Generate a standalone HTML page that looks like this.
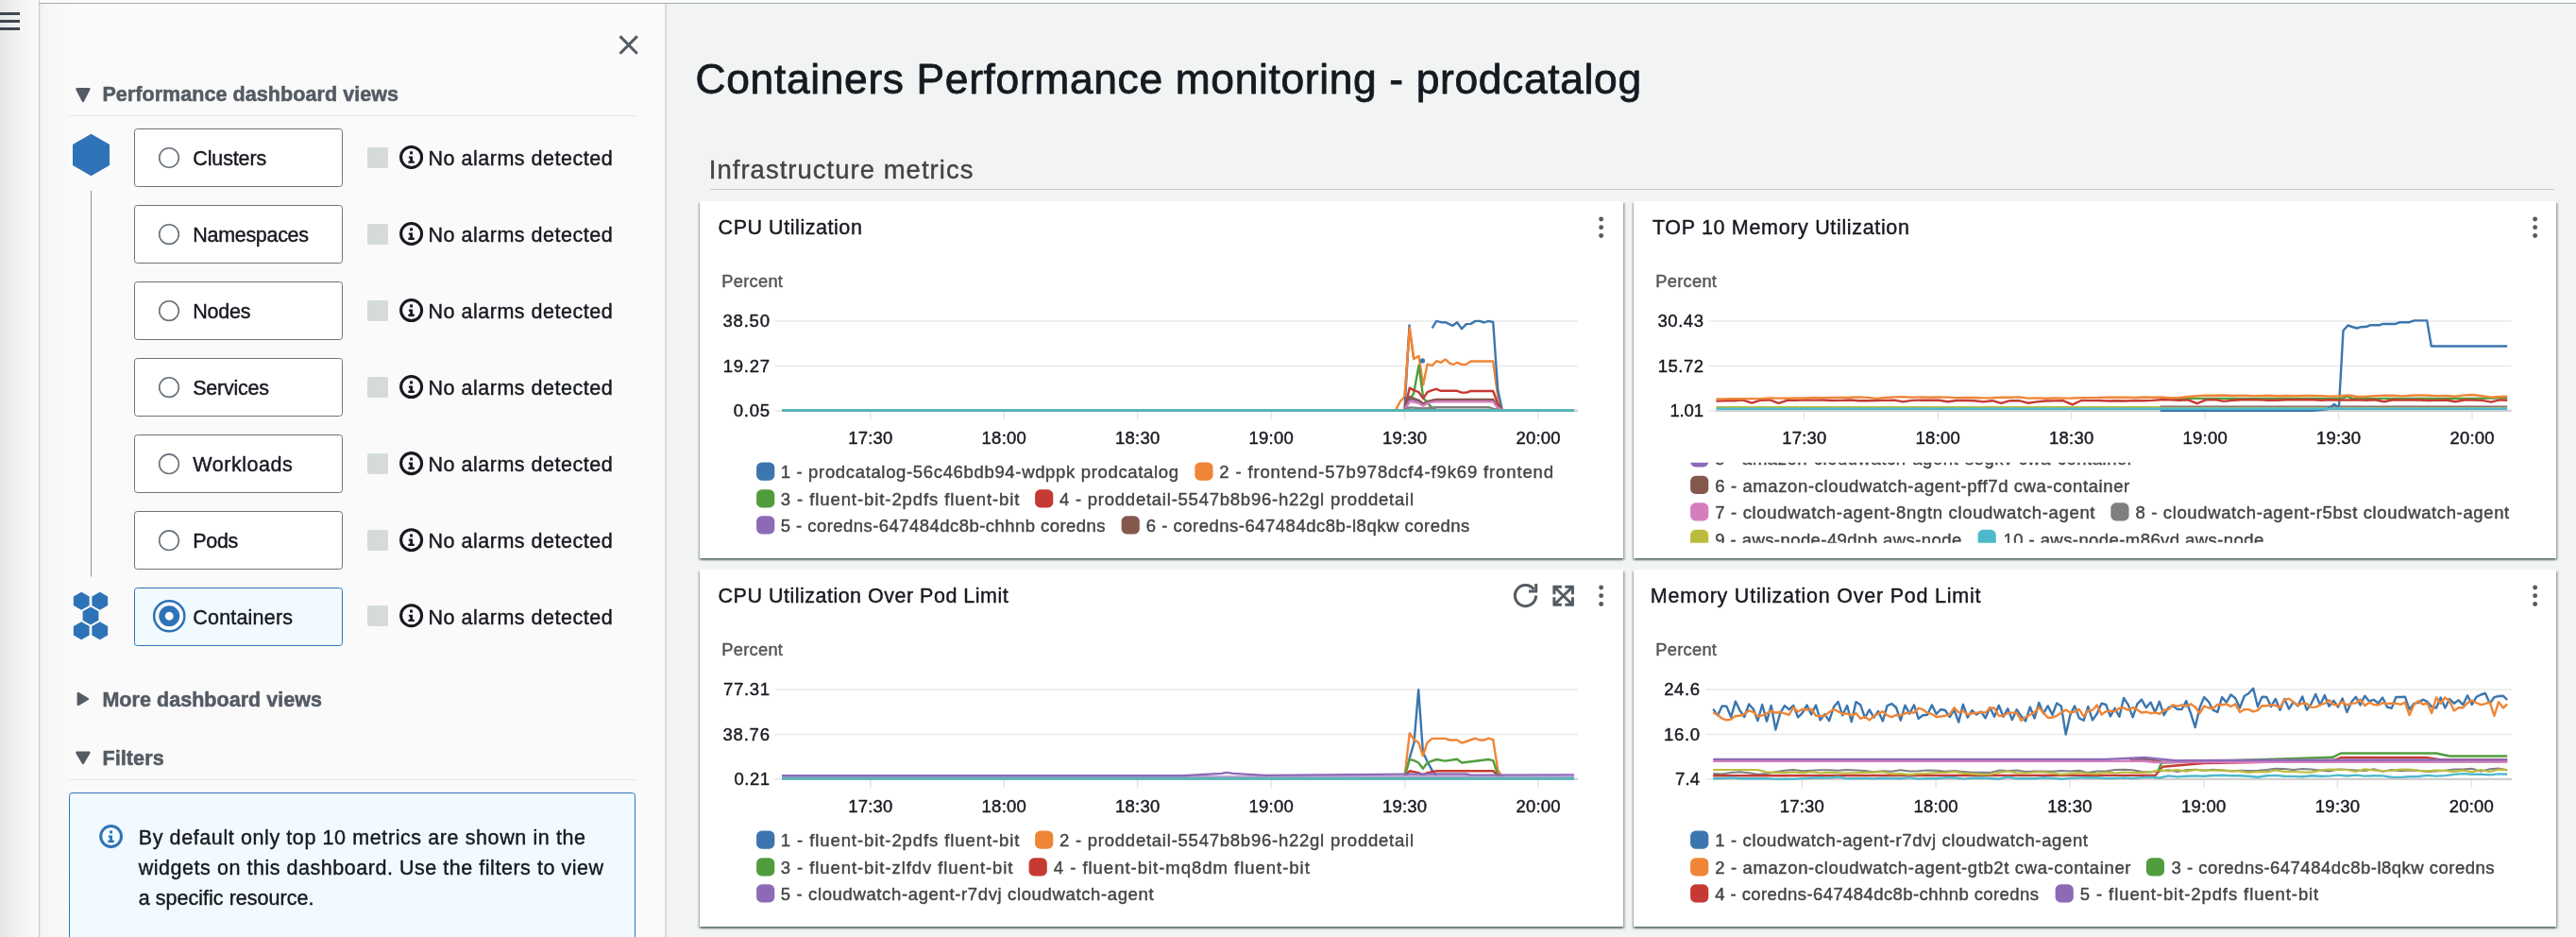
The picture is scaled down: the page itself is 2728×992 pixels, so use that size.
<!DOCTYPE html>
<html lang="en"><head><meta charset="utf-8"><title>Containers Performance monitoring - prodcatalog</title>
<style>
html,body{margin:0;padding:0}
body{width:2728px;height:992px;background:#f2f3f3;font-family:'Liberation Sans', sans-serif}
#page{position:relative;width:2728px;height:992px;overflow:hidden;background:#f2f3f3}
#strip{position:absolute;left:0;top:0;width:41px;height:992px;background:linear-gradient(to right,#e5e5e5 0,#ebebeb 8px,#f1f1f1 17px,#f5f5f5 28px,#f9f9f9 40px);border-right:1.8px solid #cbd0d1}
#strip i{position:absolute;left:0;width:20.8px;height:2.9px;background:#414750}
#strip i:nth-child(1){top:13.2px}#strip i:nth-child(2){top:21.1px}#strip i:nth-child(3){top:29px}
#side{position:absolute;left:42.4px;top:4px;width:662px;height:992px;background:linear-gradient(to right,#e6e9e9 0,#f1f2f2 1.6px,#f5f5f5 4px,#f8f8f8 16px,#fafafa 34px);box-shadow:1px 0 2.5px rgba(0,28,36,.2)}
#topband{position:absolute;left:42.4px;top:0;width:2728px;height:4px;background:#fbfbfb;z-index:3}
#topline{position:absolute;left:41px;top:2.9px;width:2728px;height:1.1px;background:#a3adb0;z-index:4}
.hr{position:absolute;height:1.2px;background:#e3e6e6}
.hr2{position:absolute;height:1px;background:#c8c9c9}
.rbox{position:absolute;left:142.2px;width:219px;height:60px;border:1.5px solid #6b737b;border-radius:3.5px;background:#fff;box-sizing:content-box}
.rbox.sel{border-color:#2e73b8;background:#f1faff}
.sq{position:absolute;left:389px;width:22px;height:22px;border-radius:2px;background:#d5dbdb}
#infobox{position:absolute;left:73px;top:839.2px;width:597.6px;height:200px;border:1.5px solid #2e73b8;border-radius:3.5px;background:#f1faff}
.card{position:absolute;width:978px;height:378px;background:#fff;box-shadow:0 1.6px 2.2px 0 rgba(0,28,36,.5),1.5px 1.5px 1.8px 0 rgba(0,28,36,.2),-1.5px 1.5px 1.8px 0 rgba(0,28,36,.2)}
svg#ov{position:absolute;left:0;top:0;z-index:2;will-change:transform}
svg#ov text{font-family:'Liberation Sans', sans-serif;white-space:pre;stroke-linejoin:round}
</style></head><body><div id="page">
<div id="strip"><i></i><i></i><i></i></div>
<div id="topband"></div><div id="topline"></div>
<div id="side"></div>
<div class="hr" style="left:73.5px;top:122px;width:599px"></div>
<div class="rbox" style="top:136.25px"></div>
<div class="sq" style="top:156.00px"></div>
<div class="rbox" style="top:217.29px"></div>
<div class="sq" style="top:237.04px"></div>
<div class="rbox" style="top:298.33px"></div>
<div class="sq" style="top:318.08px"></div>
<div class="rbox" style="top:379.37px"></div>
<div class="sq" style="top:399.12px"></div>
<div class="rbox" style="top:460.41px"></div>
<div class="sq" style="top:480.16px"></div>
<div class="rbox" style="top:541.45px"></div>
<div class="sq" style="top:561.20px"></div>
<div class="rbox sel" style="top:622.49px"></div>
<div class="sq" style="top:641.24px"></div>
<div class="hr" style="left:73.5px;top:824.5px;width:599px"></div>
<div id="infobox"></div>
<div class="hr2" style="left:752px;top:200px;width:1953px"></div>
<div class="card" style="left:741px;top:213px;width:978px"></div>
<div class="card" style="left:1730px;top:213px;width:977px"></div>
<div class="card" style="left:741px;top:603px;width:978px"></div>
<div class="card" style="left:1730px;top:603px;width:977px"></div>
<svg id="ov" width="2728" height="992" viewBox="0 0 2728 992">
<path d="M656.6,38.4 L674.8,56.8 M674.8,38.4 L656.6,56.8" stroke="#545b64" stroke-width="3" fill="none"/>
<path d="M81.4,94.2 L94.4,94.2 L87.9,106.9z" fill="#545b64" stroke="#545b64" stroke-width="2.4" stroke-linejoin="round"/>
<text x="108.40" y="107.00" font-size="21.5" fill="#545b64" stroke="#545b64" stroke-width="0.55" font-weight="700" textLength="313.60" lengthAdjust="spacing">Performance dashboard views</text>
<circle cx="179" cy="167.00" r="10.3" fill="#fff" stroke="#687078" stroke-width="1.6"/>
<text x="204.25" y="175.00" font-size="21.5" fill="#16191f" stroke="#16191f" stroke-width="0.42" textLength="78.00" lengthAdjust="spacing">Clusters</text>
<circle cx="435.6" cy="166.45" r="11.0" fill="none" stroke="#16191f" stroke-width="3.05"/>
<rect x="434.10" y="160.30" width="2.9" height="3.05" fill="#16191f"/>
<path d="M432.90,165.40 H437.00 V170.45 H438.80 V172.85 H432.40 V170.45 H434.20 V167.60 H432.90z" fill="#16191f"/>
<text x="453.40" y="175.00" font-size="21.5" fill="#16191f" stroke="#16191f" stroke-width="0.42" textLength="195.40" lengthAdjust="spacing">No alarms detected</text>
<circle cx="179" cy="248.04" r="10.3" fill="#fff" stroke="#687078" stroke-width="1.6"/>
<text x="204.25" y="256.04" font-size="21.5" fill="#16191f" stroke="#16191f" stroke-width="0.42" textLength="122.75" lengthAdjust="spacing">Namespaces</text>
<circle cx="435.6" cy="247.49" r="11.0" fill="none" stroke="#16191f" stroke-width="3.05"/>
<rect x="434.10" y="241.34" width="2.9" height="3.05" fill="#16191f"/>
<path d="M432.90,246.44 H437.00 V251.49 H438.80 V253.89 H432.40 V251.49 H434.20 V248.64 H432.90z" fill="#16191f"/>
<text x="453.40" y="256.04" font-size="21.5" fill="#16191f" stroke="#16191f" stroke-width="0.42" textLength="195.40" lengthAdjust="spacing">No alarms detected</text>
<circle cx="179" cy="329.08" r="10.3" fill="#fff" stroke="#687078" stroke-width="1.6"/>
<text x="204.25" y="337.08" font-size="21.5" fill="#16191f" stroke="#16191f" stroke-width="0.42" textLength="61.25" lengthAdjust="spacing">Nodes</text>
<circle cx="435.6" cy="328.53000000000003" r="11.0" fill="none" stroke="#16191f" stroke-width="3.05"/>
<rect x="434.10" y="322.38" width="2.9" height="3.05" fill="#16191f"/>
<path d="M432.90,327.48 H437.00 V332.53 H438.80 V334.93 H432.40 V332.53 H434.20 V329.68 H432.90z" fill="#16191f"/>
<text x="453.40" y="337.08" font-size="21.5" fill="#16191f" stroke="#16191f" stroke-width="0.42" textLength="195.40" lengthAdjust="spacing">No alarms detected</text>
<circle cx="179" cy="410.12" r="10.3" fill="#fff" stroke="#687078" stroke-width="1.6"/>
<text x="204.25" y="418.12" font-size="21.5" fill="#16191f" stroke="#16191f" stroke-width="0.42" textLength="80.70" lengthAdjust="spacing">Services</text>
<circle cx="435.6" cy="409.57" r="11.0" fill="none" stroke="#16191f" stroke-width="3.05"/>
<rect x="434.10" y="403.42" width="2.9" height="3.05" fill="#16191f"/>
<path d="M432.90,408.52 H437.00 V413.57 H438.80 V415.97 H432.40 V413.57 H434.20 V410.72 H432.90z" fill="#16191f"/>
<text x="453.40" y="418.12" font-size="21.5" fill="#16191f" stroke="#16191f" stroke-width="0.42" textLength="195.40" lengthAdjust="spacing">No alarms detected</text>
<circle cx="179" cy="491.16" r="10.3" fill="#fff" stroke="#687078" stroke-width="1.6"/>
<text x="204.25" y="499.16" font-size="21.5" fill="#16191f" stroke="#16191f" stroke-width="0.42" textLength="105.60" lengthAdjust="spacing">Workloads</text>
<circle cx="435.6" cy="490.61" r="11.0" fill="none" stroke="#16191f" stroke-width="3.05"/>
<rect x="434.10" y="484.46" width="2.9" height="3.05" fill="#16191f"/>
<path d="M432.90,489.56 H437.00 V494.61 H438.80 V497.01 H432.40 V494.61 H434.20 V491.76 H432.90z" fill="#16191f"/>
<text x="453.40" y="499.16" font-size="21.5" fill="#16191f" stroke="#16191f" stroke-width="0.42" textLength="195.40" lengthAdjust="spacing">No alarms detected</text>
<circle cx="179" cy="572.20" r="10.3" fill="#fff" stroke="#687078" stroke-width="1.6"/>
<text x="204.25" y="580.20" font-size="21.5" fill="#16191f" stroke="#16191f" stroke-width="0.42" textLength="48.00" lengthAdjust="spacing">Pods</text>
<circle cx="435.6" cy="571.6500000000001" r="11.0" fill="none" stroke="#16191f" stroke-width="3.05"/>
<rect x="434.10" y="565.50" width="2.9" height="3.05" fill="#16191f"/>
<path d="M432.90,570.60 H437.00 V575.65 H438.80 V578.05 H432.40 V575.65 H434.20 V572.80 H432.90z" fill="#16191f"/>
<text x="453.40" y="580.20" font-size="21.5" fill="#16191f" stroke="#16191f" stroke-width="0.42" textLength="195.40" lengthAdjust="spacing">No alarms detected</text>
<circle cx="179.25" cy="652.24" r="16.1" fill="#fff" stroke="#2e73b8" stroke-width="2.5"/>
<circle cx="179.25" cy="652.24" r="11" fill="#2e73b8"/>
<circle cx="179.25" cy="652.24" r="4.4" fill="#fff"/>
<text x="204.25" y="661.24" font-size="21.5" fill="#16191f" stroke="#16191f" stroke-width="0.42" textLength="105.75" lengthAdjust="spacing">Containers</text>
<circle cx="435.6" cy="651.69" r="11.0" fill="none" stroke="#16191f" stroke-width="3.05"/>
<rect x="434.10" y="645.54" width="2.9" height="3.05" fill="#16191f"/>
<path d="M432.90,650.64 H437.00 V655.69 H438.80 V658.09 H432.40 V655.69 H434.20 V652.84 H432.90z" fill="#16191f"/>
<text x="453.40" y="661.24" font-size="21.5" fill="#16191f" stroke="#16191f" stroke-width="0.42" textLength="195.40" lengthAdjust="spacing">No alarms detected</text>
<polygon points="96.50,141.75 116.00,152.88 116.00,175.12 96.50,186.25 77.00,175.12 77.00,152.88" fill="#2e73b8"/>
<line x1="96.5" y1="202" x2="96.5" y2="610.5" stroke="#879596" stroke-width="1"/>
<polygon points="86.25,626.75 94.65,631.50 94.65,641.00 86.25,645.75 77.85,641.00 77.85,631.50" fill="#2e73b8"/>
<polygon points="105.75,626.75 114.15,631.50 114.15,641.00 105.75,645.75 97.35,641.00 97.35,631.50" fill="#2e73b8"/>
<polygon points="96.00,642.50 104.40,647.25 104.40,656.75 96.00,661.50 87.60,656.75 87.60,647.25" fill="#2e73b8"/>
<polygon points="86.25,658.25 94.65,663.00 94.65,672.50 86.25,677.25 77.85,672.50 77.85,663.00" fill="#2e73b8"/>
<polygon points="105.75,658.25 114.15,663.00 114.15,672.50 105.75,677.25 97.35,672.50 97.35,663.00" fill="#2e73b8"/>
<path d="M82.8,734.1 L82.8,745.9 L92.9,740z" fill="#545b64" stroke="#545b64" stroke-width="2.4" stroke-linejoin="round"/>
<text x="108.40" y="748.00" font-size="21.5" fill="#545b64" stroke="#545b64" stroke-width="0.55" font-weight="700" textLength="232.60" lengthAdjust="spacing">More dashboard views</text>
<path d="M81.4,796.8 L94.4,796.8 L87.9,808.0z" fill="#545b64" stroke="#545b64" stroke-width="2.4" stroke-linejoin="round"/>
<text x="108.40" y="810.00" font-size="21.5" fill="#545b64" stroke="#545b64" stroke-width="0.55" font-weight="700" textLength="65.20" lengthAdjust="spacing">Filters</text>
<circle cx="117.6" cy="885.5" r="10.9" fill="none" stroke="#2e73b8" stroke-width="3.0"/>
<rect x="116.10" y="879.35" width="2.9" height="3.05" fill="#2e73b8"/>
<path d="M114.90,884.45 H119.00 V889.50 H120.80 V891.90 H114.40 V889.50 H116.20 V886.65 H114.90z" fill="#2e73b8"/>
<text x="146.75" y="894.25" font-size="21.5" fill="#16191f" stroke="#16191f" stroke-width="0.42" textLength="473.25" lengthAdjust="spacing">By default only top 10 metrics are shown in the</text>
<text x="146.75" y="926.00" font-size="21.5" fill="#16191f" stroke="#16191f" stroke-width="0.42" textLength="492.25" lengthAdjust="spacing">widgets on this dashboard. Use the filters to view</text>
<text x="146.75" y="958.00" font-size="21.5" fill="#16191f" stroke="#16191f" stroke-width="0.42" textLength="185.75" lengthAdjust="spacing">a specific resource.</text>
<text x="736.60" y="99.20" font-size="44.4" fill="#16191f" stroke="#16191f" stroke-width="0.8" textLength="1001.50" lengthAdjust="spacing">Containers Performance monitoring - prodcatalog</text>
<text x="750.80" y="189.25" font-size="27.5" fill="#444" stroke="#444" stroke-width="0.42" textLength="279.60" lengthAdjust="spacing">Infrastructure metrics</text>
<text x="760.55" y="248.15" font-size="21.5" fill="#16191f" stroke="#16191f" stroke-width="0.42" textLength="152.30" lengthAdjust="spacing">CPU Utilization</text>
<circle cx="1695.65" cy="231.95" r="2.45" fill="#545b64"/>
<circle cx="1695.65" cy="240.65" r="2.45" fill="#545b64"/>
<circle cx="1695.65" cy="249.45" r="2.45" fill="#545b64"/>
<text x="764.35" y="303.95" font-size="18.3" fill="#555" stroke="#555" stroke-width="0.42" textLength="64.60" lengthAdjust="spacing">Percent</text>
<line x1="820.50" y1="340.00" x2="1670.85" y2="340.00" stroke="#e9e9e9" stroke-width="1.3"/>
<text x="815.00" y="346.30" font-size="18.5" fill="#16191f" stroke="#16191f" stroke-width="0.42" text-anchor="end" textLength="49.60" lengthAdjust="spacing">38.50</text>
<line x1="820.50" y1="387.50" x2="1670.85" y2="387.50" stroke="#e9e9e9" stroke-width="1.3"/>
<text x="815.00" y="393.80" font-size="18.5" fill="#16191f" stroke="#16191f" stroke-width="0.42" text-anchor="end" textLength="49.20" lengthAdjust="spacing">19.27</text>
<line x1="820.50" y1="434.85" x2="828.00" y2="434.85" stroke="#e6e6e6" stroke-width="1.4"/>
<line x1="828.00" y1="434.95" x2="1670.85" y2="434.95" stroke="#cfcfcf" stroke-width="2.3"/>
<text x="815.00" y="441.15" font-size="18.5" fill="#16191f" stroke="#16191f" stroke-width="0.42" text-anchor="end" textLength="38.20" lengthAdjust="spacing">0.05</text>
<line x1="921.75" y1="435.25" x2="921.75" y2="443.85" stroke="#e0e0e0" stroke-width="1.3"/>
<text x="921.75" y="470.15" font-size="18.5" fill="#16191f" stroke="#16191f" stroke-width="0.42" text-anchor="middle" textLength="47.20" lengthAdjust="spacing">17:30</text>
<line x1="1063.20" y1="435.25" x2="1063.20" y2="443.85" stroke="#e0e0e0" stroke-width="1.3"/>
<text x="1063.20" y="470.15" font-size="18.5" fill="#16191f" stroke="#16191f" stroke-width="0.42" text-anchor="middle" textLength="47.20" lengthAdjust="spacing">18:00</text>
<line x1="1204.65" y1="435.25" x2="1204.65" y2="443.85" stroke="#e0e0e0" stroke-width="1.3"/>
<text x="1204.65" y="470.15" font-size="18.5" fill="#16191f" stroke="#16191f" stroke-width="0.42" text-anchor="middle" textLength="47.20" lengthAdjust="spacing">18:30</text>
<line x1="1346.10" y1="435.25" x2="1346.10" y2="443.85" stroke="#e0e0e0" stroke-width="1.3"/>
<text x="1346.10" y="470.15" font-size="18.5" fill="#16191f" stroke="#16191f" stroke-width="0.42" text-anchor="middle" textLength="47.20" lengthAdjust="spacing">19:00</text>
<line x1="1487.55" y1="435.25" x2="1487.55" y2="443.85" stroke="#e0e0e0" stroke-width="1.3"/>
<text x="1487.55" y="470.15" font-size="18.5" fill="#16191f" stroke="#16191f" stroke-width="0.42" text-anchor="middle" textLength="47.20" lengthAdjust="spacing">19:30</text>
<line x1="1629.00" y1="435.25" x2="1629.00" y2="443.85" stroke="#e0e0e0" stroke-width="1.3"/>
<text x="1629.00" y="470.15" font-size="18.5" fill="#16191f" stroke="#16191f" stroke-width="0.42" text-anchor="middle" textLength="47.20" lengthAdjust="spacing">20:00</text>
<text x="1749.95" y="248.15" font-size="21.5" fill="#16191f" stroke="#16191f" stroke-width="0.42" textLength="272.00" lengthAdjust="spacing">TOP 10 Memory Utilization</text>
<circle cx="2684.65" cy="231.95" r="2.45" fill="#545b64"/>
<circle cx="2684.65" cy="240.65" r="2.45" fill="#545b64"/>
<circle cx="2684.65" cy="249.45" r="2.45" fill="#545b64"/>
<text x="1753.35" y="303.95" font-size="18.3" fill="#555" stroke="#555" stroke-width="0.42" textLength="64.60" lengthAdjust="spacing">Percent</text>
<line x1="1809.50" y1="340.00" x2="2659.85" y2="340.00" stroke="#e9e9e9" stroke-width="1.3"/>
<text x="1804.00" y="346.30" font-size="18.5" fill="#16191f" stroke="#16191f" stroke-width="0.42" text-anchor="end" textLength="48.60" lengthAdjust="spacing">30.43</text>
<line x1="1809.50" y1="387.50" x2="2659.85" y2="387.50" stroke="#e9e9e9" stroke-width="1.3"/>
<text x="1804.00" y="393.80" font-size="18.5" fill="#16191f" stroke="#16191f" stroke-width="0.42" text-anchor="end" textLength="48.20" lengthAdjust="spacing">15.72</text>
<line x1="1809.50" y1="434.85" x2="1817.00" y2="434.85" stroke="#e6e6e6" stroke-width="1.4"/>
<line x1="1817.00" y1="434.95" x2="2659.85" y2="434.95" stroke="#cfcfcf" stroke-width="2.3"/>
<text x="1804.00" y="441.15" font-size="18.5" fill="#16191f" stroke="#16191f" stroke-width="0.42" text-anchor="end" textLength="35.60" lengthAdjust="spacing">1.01</text>
<line x1="1910.75" y1="435.25" x2="1910.75" y2="443.85" stroke="#e0e0e0" stroke-width="1.3"/>
<text x="1910.75" y="470.15" font-size="18.5" fill="#16191f" stroke="#16191f" stroke-width="0.42" text-anchor="middle" textLength="47.20" lengthAdjust="spacing">17:30</text>
<line x1="2052.20" y1="435.25" x2="2052.20" y2="443.85" stroke="#e0e0e0" stroke-width="1.3"/>
<text x="2052.20" y="470.15" font-size="18.5" fill="#16191f" stroke="#16191f" stroke-width="0.42" text-anchor="middle" textLength="47.20" lengthAdjust="spacing">18:00</text>
<line x1="2193.65" y1="435.25" x2="2193.65" y2="443.85" stroke="#e0e0e0" stroke-width="1.3"/>
<text x="2193.65" y="470.15" font-size="18.5" fill="#16191f" stroke="#16191f" stroke-width="0.42" text-anchor="middle" textLength="47.20" lengthAdjust="spacing">18:30</text>
<line x1="2335.10" y1="435.25" x2="2335.10" y2="443.85" stroke="#e0e0e0" stroke-width="1.3"/>
<text x="2335.10" y="470.15" font-size="18.5" fill="#16191f" stroke="#16191f" stroke-width="0.42" text-anchor="middle" textLength="47.20" lengthAdjust="spacing">19:00</text>
<line x1="2476.55" y1="435.25" x2="2476.55" y2="443.85" stroke="#e0e0e0" stroke-width="1.3"/>
<text x="2476.55" y="470.15" font-size="18.5" fill="#16191f" stroke="#16191f" stroke-width="0.42" text-anchor="middle" textLength="47.20" lengthAdjust="spacing">19:30</text>
<line x1="2618.00" y1="435.25" x2="2618.00" y2="443.85" stroke="#e0e0e0" stroke-width="1.3"/>
<text x="2618.00" y="470.15" font-size="18.5" fill="#16191f" stroke="#16191f" stroke-width="0.42" text-anchor="middle" textLength="47.20" lengthAdjust="spacing">20:00</text>
<text x="760.55" y="638.15" font-size="21.5" fill="#16191f" stroke="#16191f" stroke-width="0.42" textLength="307.20" lengthAdjust="spacing">CPU Utilization Over Pod Limit</text>
<circle cx="1695.65" cy="621.95" r="2.45" fill="#545b64"/>
<circle cx="1695.65" cy="630.65" r="2.45" fill="#545b64"/>
<circle cx="1695.65" cy="639.45" r="2.45" fill="#545b64"/>
<text x="764.35" y="693.95" font-size="18.3" fill="#555" stroke="#555" stroke-width="0.42" textLength="64.60" lengthAdjust="spacing">Percent</text>
<line x1="820.50" y1="730.00" x2="1670.85" y2="730.00" stroke="#e9e9e9" stroke-width="1.3"/>
<text x="815.00" y="736.30" font-size="18.5" fill="#16191f" stroke="#16191f" stroke-width="0.42" text-anchor="end" textLength="49.00" lengthAdjust="spacing">77.31</text>
<line x1="820.50" y1="777.50" x2="1670.85" y2="777.50" stroke="#e9e9e9" stroke-width="1.3"/>
<text x="815.00" y="783.80" font-size="18.5" fill="#16191f" stroke="#16191f" stroke-width="0.42" text-anchor="end" textLength="49.60" lengthAdjust="spacing">38.76</text>
<line x1="820.50" y1="824.85" x2="828.00" y2="824.85" stroke="#e6e6e6" stroke-width="1.4"/>
<line x1="828.00" y1="824.95" x2="1670.85" y2="824.95" stroke="#cfcfcf" stroke-width="2.3"/>
<text x="815.00" y="831.15" font-size="18.5" fill="#16191f" stroke="#16191f" stroke-width="0.42" text-anchor="end" textLength="37.60" lengthAdjust="spacing">0.21</text>
<line x1="921.75" y1="825.25" x2="921.75" y2="833.85" stroke="#e0e0e0" stroke-width="1.3"/>
<text x="921.75" y="860.15" font-size="18.5" fill="#16191f" stroke="#16191f" stroke-width="0.42" text-anchor="middle" textLength="47.20" lengthAdjust="spacing">17:30</text>
<line x1="1063.20" y1="825.25" x2="1063.20" y2="833.85" stroke="#e0e0e0" stroke-width="1.3"/>
<text x="1063.20" y="860.15" font-size="18.5" fill="#16191f" stroke="#16191f" stroke-width="0.42" text-anchor="middle" textLength="47.20" lengthAdjust="spacing">18:00</text>
<line x1="1204.65" y1="825.25" x2="1204.65" y2="833.85" stroke="#e0e0e0" stroke-width="1.3"/>
<text x="1204.65" y="860.15" font-size="18.5" fill="#16191f" stroke="#16191f" stroke-width="0.42" text-anchor="middle" textLength="47.20" lengthAdjust="spacing">18:30</text>
<line x1="1346.10" y1="825.25" x2="1346.10" y2="833.85" stroke="#e0e0e0" stroke-width="1.3"/>
<text x="1346.10" y="860.15" font-size="18.5" fill="#16191f" stroke="#16191f" stroke-width="0.42" text-anchor="middle" textLength="47.20" lengthAdjust="spacing">19:00</text>
<line x1="1487.55" y1="825.25" x2="1487.55" y2="833.85" stroke="#e0e0e0" stroke-width="1.3"/>
<text x="1487.55" y="860.15" font-size="18.5" fill="#16191f" stroke="#16191f" stroke-width="0.42" text-anchor="middle" textLength="47.20" lengthAdjust="spacing">19:30</text>
<line x1="1629.00" y1="825.25" x2="1629.00" y2="833.85" stroke="#e0e0e0" stroke-width="1.3"/>
<text x="1629.00" y="860.15" font-size="18.5" fill="#16191f" stroke="#16191f" stroke-width="0.42" text-anchor="middle" textLength="47.20" lengthAdjust="spacing">20:00</text>
<text x="1747.85" y="638.15" font-size="21.5" fill="#16191f" stroke="#16191f" stroke-width="0.42" textLength="349.60" lengthAdjust="spacing">Memory Utilization Over Pod Limit</text>
<circle cx="2684.65" cy="621.95" r="2.45" fill="#545b64"/>
<circle cx="2684.65" cy="630.65" r="2.45" fill="#545b64"/>
<circle cx="2684.65" cy="639.45" r="2.45" fill="#545b64"/>
<text x="1753.35" y="693.95" font-size="18.3" fill="#555" stroke="#555" stroke-width="0.42" textLength="64.60" lengthAdjust="spacing">Percent</text>
<line x1="1806.25" y1="730.00" x2="2659.85" y2="730.00" stroke="#e9e9e9" stroke-width="1.3"/>
<text x="1800.00" y="736.30" font-size="18.5" fill="#16191f" stroke="#16191f" stroke-width="0.42" text-anchor="end" textLength="37.80" lengthAdjust="spacing">24.6</text>
<line x1="1806.25" y1="777.50" x2="2659.85" y2="777.50" stroke="#e9e9e9" stroke-width="1.3"/>
<text x="1800.00" y="783.80" font-size="18.5" fill="#16191f" stroke="#16191f" stroke-width="0.42" text-anchor="end" textLength="38.00" lengthAdjust="spacing">16.0</text>
<line x1="1806.25" y1="824.85" x2="1814.25" y2="824.85" stroke="#e6e6e6" stroke-width="1.4"/>
<line x1="1814.25" y1="824.95" x2="2659.85" y2="824.95" stroke="#cfcfcf" stroke-width="2.3"/>
<text x="1800.00" y="831.15" font-size="18.5" fill="#16191f" stroke="#16191f" stroke-width="0.42" text-anchor="end" textLength="26.00" lengthAdjust="spacing">7.4</text>
<line x1="1908.25" y1="825.25" x2="1908.25" y2="833.85" stroke="#e0e0e0" stroke-width="1.3"/>
<text x="1908.25" y="860.15" font-size="18.5" fill="#16191f" stroke="#16191f" stroke-width="0.42" text-anchor="middle" textLength="47.20" lengthAdjust="spacing">17:30</text>
<line x1="2050.05" y1="825.25" x2="2050.05" y2="833.85" stroke="#e0e0e0" stroke-width="1.3"/>
<text x="2050.05" y="860.15" font-size="18.5" fill="#16191f" stroke="#16191f" stroke-width="0.42" text-anchor="middle" textLength="47.20" lengthAdjust="spacing">18:00</text>
<line x1="2191.85" y1="825.25" x2="2191.85" y2="833.85" stroke="#e0e0e0" stroke-width="1.3"/>
<text x="2191.85" y="860.15" font-size="18.5" fill="#16191f" stroke="#16191f" stroke-width="0.42" text-anchor="middle" textLength="47.20" lengthAdjust="spacing">18:30</text>
<line x1="2333.65" y1="825.25" x2="2333.65" y2="833.85" stroke="#e0e0e0" stroke-width="1.3"/>
<text x="2333.65" y="860.15" font-size="18.5" fill="#16191f" stroke="#16191f" stroke-width="0.42" text-anchor="middle" textLength="47.20" lengthAdjust="spacing">19:00</text>
<line x1="2475.45" y1="825.25" x2="2475.45" y2="833.85" stroke="#e0e0e0" stroke-width="1.3"/>
<text x="2475.45" y="860.15" font-size="18.5" fill="#16191f" stroke="#16191f" stroke-width="0.42" text-anchor="middle" textLength="47.20" lengthAdjust="spacing">19:30</text>
<line x1="2617.25" y1="825.25" x2="2617.25" y2="833.85" stroke="#e0e0e0" stroke-width="1.3"/>
<text x="2617.25" y="860.15" font-size="18.5" fill="#16191f" stroke="#16191f" stroke-width="0.42" text-anchor="middle" textLength="47.20" lengthAdjust="spacing">20:00</text>
<path d="M1626.6,630.6 A11.1,11.1 0 1 1 1624.4,623.9" fill="none" stroke="#545b64" stroke-width="3"/>
<path d="M1626.7,618.1 V626 H1619" fill="none" stroke="#545b64" stroke-width="3"/>
<path d="M1645.9,629.2 V621.2 H1653.9 M1657.4,621.2 H1665.4 V629.2 M1665.4,632.3 V640.3 H1657.4 M1653.9,640.3 H1645.9 V632.3 M1646.9,622.2 L1664.4,639.3 M1664.4,622.2 L1646.9,639.3" fill="none" stroke="#545b64" stroke-width="3"/>
<g>
<rect x="801.10" y="489.55" width="19.2" height="19.2" rx="5.6" fill="#3b76af"/>
<text x="826.75" y="506.25" font-size="18.5" fill="#444" stroke="#444" stroke-width="0.42" textLength="421.25" lengthAdjust="spacing">1 - prodcatalog-56c46bdb94-wdppk prodcatalog</text>
<rect x="1265.35" y="489.55" width="19.2" height="19.2" rx="5.6" fill="#ef8536"/>
<text x="1291.25" y="506.25" font-size="18.5" fill="#444" stroke="#444" stroke-width="0.42" textLength="353.75" lengthAdjust="spacing">2 - frontend-57b978dcf4-f9k69 frontend</text>
<rect x="801.10" y="518.30" width="19.2" height="19.2" rx="5.6" fill="#519d3e"/>
<text x="826.75" y="535.00" font-size="18.5" fill="#444" stroke="#444" stroke-width="0.42" textLength="252.75" lengthAdjust="spacing">3 - fluent-bit-2pdfs fluent-bit</text>
<rect x="1096.10" y="518.30" width="19.2" height="19.2" rx="5.6" fill="#c53a32"/>
<text x="1122.00" y="535.00" font-size="18.5" fill="#444" stroke="#444" stroke-width="0.42" textLength="375.00" lengthAdjust="spacing">4 - proddetail-5547b8b96-h22gl proddetail</text>
<rect x="801.10" y="546.30" width="19.2" height="19.2" rx="5.6" fill="#8d6ab8"/>
<text x="826.75" y="563.00" font-size="18.5" fill="#444" stroke="#444" stroke-width="0.42" textLength="343.75" lengthAdjust="spacing">5 - coredns-647484dc8b-chhnb coredns</text>
<rect x="1187.60" y="546.30" width="19.2" height="19.2" rx="5.6" fill="#85584e"/>
<text x="1213.75" y="563.00" font-size="18.5" fill="#444" stroke="#444" stroke-width="0.42" textLength="342.50" lengthAdjust="spacing">6 - coredns-647484dc8b-l8qkw coredns</text>
</g>
<clipPath id="lc2"><rect x="1760" y="489.7" width="930" height="85.1"/></clipPath>
<g clip-path="url(#lc2)">
<rect x="1790.10" y="475.30" width="19.2" height="19.2" rx="5.6" fill="#8d6ab8"/>
<text x="1816.25" y="492.00" font-size="18.5" fill="#444" stroke="#444" stroke-width="0.42" textLength="442.75" lengthAdjust="spacing">5 - amazon-cloudwatch-agent-s5gkv cwa-container</text>
<rect x="1790.10" y="503.80" width="19.2" height="19.2" rx="5.6" fill="#85584e"/>
<text x="1816.25" y="520.50" font-size="18.5" fill="#444" stroke="#444" stroke-width="0.42" textLength="439.00" lengthAdjust="spacing">6 - amazon-cloudwatch-agent-pff7d cwa-container</text>
<rect x="1790.10" y="532.30" width="19.2" height="19.2" rx="5.6" fill="#d57ebe"/>
<text x="1816.25" y="549.00" font-size="18.5" fill="#444" stroke="#444" stroke-width="0.42" textLength="402.25" lengthAdjust="spacing">7 - cloudwatch-agent-8ngtn cloudwatch-agent</text>
<rect x="2235.35" y="532.30" width="19.2" height="19.2" rx="5.6" fill="#7f7f7f"/>
<text x="2261.50" y="549.00" font-size="18.5" fill="#444" stroke="#444" stroke-width="0.42" textLength="395.75" lengthAdjust="spacing">8 - cloudwatch-agent-r5bst cloudwatch-agent</text>
<rect x="1790.10" y="560.80" width="19.2" height="19.2" rx="5.6" fill="#bbbc3f"/>
<text x="1816.25" y="577.50" font-size="18.5" fill="#444" stroke="#444" stroke-width="0.42" textLength="261.00" lengthAdjust="spacing">9 - aws-node-49dpb aws-node</text>
<rect x="2094.60" y="560.80" width="19.2" height="19.2" rx="5.6" fill="#4eb9cc"/>
<text x="2121.50" y="577.50" font-size="18.5" fill="#444" stroke="#444" stroke-width="0.42" textLength="275.75" lengthAdjust="spacing">10 - aws-node-m86vd aws-node</text>
</g>
<g>
<rect x="801.10" y="879.55" width="19.2" height="19.2" rx="5.6" fill="#3b76af"/>
<text x="826.75" y="896.25" font-size="18.5" fill="#444" stroke="#444" stroke-width="0.42" textLength="252.75" lengthAdjust="spacing">1 - fluent-bit-2pdfs fluent-bit</text>
<rect x="1096.10" y="879.55" width="19.2" height="19.2" rx="5.6" fill="#ef8536"/>
<text x="1122.00" y="896.25" font-size="18.5" fill="#444" stroke="#444" stroke-width="0.42" textLength="375.00" lengthAdjust="spacing">2 - proddetail-5547b8b96-h22gl proddetail</text>
<rect x="801.10" y="908.30" width="19.2" height="19.2" rx="5.6" fill="#519d3e"/>
<text x="826.75" y="925.00" font-size="18.5" fill="#444" stroke="#444" stroke-width="0.42" textLength="245.75" lengthAdjust="spacing">3 - fluent-bit-zlfdv fluent-bit</text>
<rect x="1089.60" y="908.30" width="19.2" height="19.2" rx="5.6" fill="#c53a32"/>
<text x="1115.75" y="925.00" font-size="18.5" fill="#444" stroke="#444" stroke-width="0.42" textLength="271.05" lengthAdjust="spacing">4 - fluent-bit-mq8dm fluent-bit</text>
<rect x="801.10" y="936.30" width="19.2" height="19.2" rx="5.6" fill="#8d6ab8"/>
<text x="826.75" y="953.00" font-size="18.5" fill="#444" stroke="#444" stroke-width="0.42" textLength="394.85" lengthAdjust="spacing">5 - cloudwatch-agent-r7dvj cloudwatch-agent</text>
</g>
<g>
<rect x="1790.10" y="879.55" width="19.2" height="19.2" rx="5.6" fill="#3b76af"/>
<text x="1816.25" y="896.25" font-size="18.5" fill="#444" stroke="#444" stroke-width="0.42" textLength="394.75" lengthAdjust="spacing">1 - cloudwatch-agent-r7dvj cloudwatch-agent</text>
<rect x="1790.10" y="908.30" width="19.2" height="19.2" rx="5.6" fill="#ef8536"/>
<text x="1816.25" y="925.00" font-size="18.5" fill="#444" stroke="#444" stroke-width="0.42" textLength="440.25" lengthAdjust="spacing">2 - amazon-cloudwatch-agent-gtb2t cwa-container</text>
<rect x="2272.85" y="908.30" width="19.2" height="19.2" rx="5.6" fill="#519d3e"/>
<text x="2299.50" y="925.00" font-size="18.5" fill="#444" stroke="#444" stroke-width="0.42" textLength="342.00" lengthAdjust="spacing">3 - coredns-647484dc8b-l8qkw coredns</text>
<rect x="1790.10" y="936.30" width="19.2" height="19.2" rx="5.6" fill="#c53a32"/>
<text x="1816.25" y="953.00" font-size="18.5" fill="#444" stroke="#444" stroke-width="0.42" textLength="342.75" lengthAdjust="spacing">4 - coredns-647484dc8b-chhnb coredns</text>
<rect x="2176.60" y="936.30" width="19.2" height="19.2" rx="5.6" fill="#8d6ab8"/>
<text x="2202.75" y="953.00" font-size="18.5" fill="#444" stroke="#444" stroke-width="0.42" textLength="252.50" lengthAdjust="spacing">5 - fluent-bit-2pdfs fluent-bit</text>
</g>
<polyline points="1478.5,433.6 1482.8,425.0 1487.5,420.0 1492.8,347.2 1497.2,380.0 1502.5,376.9 1507.2,407.5 1511.6,385.6 1516.6,387.2 1521.2,382.2 1525.9,383.8 1530.6,380.4 1535.0,384.4 1538.8,386.0 1543.1,383.8 1548.1,385.9 1552.8,385.9 1557.5,382.5 1581.2,382.5 1586.2,420.0 1590.6,433.6" fill="none" stroke="#ef8536" stroke-width="2.4" stroke-linejoin="round"/>
<polyline points="1487.5,433.6 1492.6,343.5" fill="none" stroke="#3b76af" stroke-width="2.4" stroke-linejoin="round"/>
<circle cx="1506.5" cy="381.9" r="2.6" fill="#3b76af"/>
<polyline points="1516.6,347.5 1521.2,339.9 1526.2,341.2 1530.6,341.2 1538.5,344.8 1543.1,341.2 1547.9,348.1 1552.8,343.1 1557.5,342.9 1562.5,339.9 1566.9,339.9 1571.9,341.5 1576.2,339.9 1581.2,341.0 1586.2,412.5 1590.6,433.6" fill="none" stroke="#3b76af" stroke-width="2.4" stroke-linejoin="round"/>
<polyline points="1487.5,420.0 1492.8,347.2 1497.2,380.0" fill="none" stroke="#ef8536" stroke-width="2.4" stroke-linejoin="round"/>
<polyline points="1487.5,433.6 1492.8,423.8 1497.2,416.2 1502.5,386.9 1507.2,421.2 1511.6,426.2 1516.6,431.9 1521.0,433.0" fill="none" stroke="#519d3e" stroke-width="2.4" stroke-linejoin="round"/>
<polyline points="1487.5,433.6 1492.8,410.6 1497.2,413.1 1502.5,415.2 1507.2,421.9 1511.6,415.2 1516.6,413.1 1521.2,411.9 1525.9,413.8 1543.1,413.8 1548.1,415.6 1552.8,415.6 1557.5,414.0 1581.2,414.0 1586.2,427.5 1590.6,433.6" fill="none" stroke="#c53a32" stroke-width="2.4" stroke-linejoin="round"/>
<polyline points="1487.5,433.6 1492.8,422.0 1497.2,423.4 1502.5,425.2 1507.2,428.6 1511.6,426.0 1516.6,424.6 1521.2,424.0 1581.2,424.0 1586.2,431.5 1590.6,433.6" fill="none" stroke="#8d6ab8" stroke-width="2.4" stroke-linejoin="round"/>
<polyline points="1487.5,433.6 1492.8,420.0 1497.2,421.9 1502.5,423.8 1507.2,427.5 1511.6,425.0 1516.6,423.8 1521.2,422.9 1581.2,422.9 1586.2,431.2 1590.6,433.6" fill="none" stroke="#85584e" stroke-width="2.4" stroke-linejoin="round"/>
<polyline points="1487.5,433.6 1492.8,425.0 1497.2,425.6 1502.5,426.9 1507.2,429.8 1511.6,426.9 1516.6,425.6 1521.2,425.2 1581.2,425.2 1586.2,431.9 1590.6,433.6" fill="none" stroke="#d57ebe" stroke-width="2.4" stroke-linejoin="round"/>
<polyline points="1487.5,433.6 1492.8,431.4 1507.2,432.4 1521.2,431.2 1576.2,431.2 1581.2,432.6 1586.0,433.6" fill="none" stroke="#7f7f7f" stroke-width="2.4" stroke-linejoin="round"/>
<polyline points="828.0,434.6 1667.0,434.6" fill="none" stroke="#55b4b5" stroke-width="3.0" stroke-linejoin="round"/>
<polyline points="1817.5,431.0 2655.2,431.0" fill="none" stroke="#bbbc3f" stroke-width="1.8" stroke-linejoin="round"/>
<polyline points="2287.7,430.1 2655.2,430.1" fill="none" stroke="#8a5a78" stroke-width="1.2" stroke-linejoin="round"/>
<polyline points="2287.8,434.7 2449.0,434.7 2464.0,433.3 2469.0,430.5 2472.0,427.8 2474.5,430.0 2477.0,430.0 2481.5,350.0 2486.5,344.5 2491.0,346.0 2496.0,347.5 2500.2,346.2 2506.5,345.8 2510.2,344.2 2520.2,344.2 2522.8,343.0 2536.5,343.0 2541.5,341.2 2551.5,341.2 2556.5,339.4 2570.2,339.4 2574.8,366.5 2655.2,366.5" fill="none" stroke="#3b76af" stroke-width="2.4" stroke-linejoin="round"/>
<polyline points="1817.5,432.8 2655.2,432.8" fill="none" stroke="#4eb9cc" stroke-width="2.5" stroke-linejoin="round"/>
<polyline points="2287.8,421.9 2480.0,421.9 2486.0,419.6 2491.0,421.9 2620.0,421.9 2655.2,421.2" fill="none" stroke="#519d3e" stroke-width="2.4" stroke-linejoin="round"/>
<polyline points="1817.5,424.6 1826.9,424.3 1836.4,424.2 1845.8,423.6 1855.2,426.6 1864.7,423.7 1874.1,423.4 1883.5,426.9 1892.9,423.8 1902.4,423.9 1911.8,423.4 1921.2,423.6 1930.7,423.5 1940.1,424.0 1949.5,423.9 1959.0,423.5 1968.4,424.2 1977.8,424.2 1987.2,424.0 1996.7,423.9 2006.1,423.6 2015.5,425.4 2025.0,423.9 2034.4,423.6 2043.8,423.7 2053.3,423.8 2062.7,425.3 2072.1,424.0 2081.5,424.0 2091.0,424.3 2100.4,425.4 2109.8,424.2 2119.3,426.9 2128.7,424.2 2138.1,424.1 2147.5,426.7 2157.0,425.4 2166.4,424.5 2175.8,424.4 2185.3,424.3 2194.7,428.3 2204.1,424.0 2213.6,424.1 2223.0,424.0 2232.4,424.5 2241.8,424.2 2251.3,424.5 2260.7,424.0 2270.1,424.2 2279.6,423.9 2289.0,423.1 2298.4,423.2 2307.9,423.7 2317.3,423.4 2326.7,427.2 2336.1,423.4 2345.6,423.1 2355.0,424.9 2364.4,423.7 2373.9,423.3 2383.3,423.2 2392.7,423.4 2402.2,423.8 2411.6,423.7 2421.0,423.2 2430.4,423.3 2439.9,423.2 2449.3,423.2 2458.7,423.7 2468.2,423.3 2477.6,423.6 2487.0,423.5 2496.5,423.4 2505.9,423.7 2515.3,423.3 2524.7,425.2 2534.2,423.3 2543.6,423.6 2553.0,423.4 2562.5,423.5 2571.9,424.0 2581.3,423.9 2590.8,423.5 2600.2,425.3 2609.6,423.5 2619.0,423.6 2628.5,423.9 2637.9,425.6 2647.3,423.4 2655.2,423.7" fill="none" stroke="#c53a32" stroke-width="2.4" stroke-linejoin="round"/>
<polyline points="1817.5,422.5 1826.9,422.4 1836.4,422.3 1845.8,422.3 1855.2,422.1 1864.7,422.1 1874.1,421.5 1883.5,421.6 1892.9,421.8 1902.4,421.5 1911.8,421.5 1921.2,421.0 1930.7,421.1 1940.1,420.9 1949.5,420.9 1959.0,420.8 1968.4,420.4 1977.8,420.9 1987.2,421.9 1996.7,421.0 2006.1,420.4 2015.5,420.2 2025.0,420.6 2034.4,420.4 2043.8,420.7 2053.3,420.5 2062.7,420.6 2072.1,421.1 2081.5,420.9 2091.0,421.0 2100.4,421.4 2109.8,421.2 2119.3,420.7 2128.7,420.8 2138.1,420.4 2147.5,421.6 2157.0,421.4 2166.4,421.7 2175.8,421.5 2185.3,421.6 2194.7,421.5 2204.1,421.1 2213.6,421.1 2223.0,420.9 2232.4,420.8 2241.8,420.7 2251.3,420.8 2260.7,420.9 2270.1,420.5 2279.6,420.8 2289.0,420.5 2298.4,421.4 2307.9,420.9 2317.3,420.0 2326.7,419.2 2336.1,418.6 2345.6,418.8 2355.0,418.5 2364.4,419.0 2373.9,418.6 2383.3,419.0 2392.7,419.1 2402.2,418.7 2411.6,419.2 2421.0,419.0 2430.4,419.2 2439.9,418.9 2449.3,419.0 2458.7,419.1 2468.2,419.6 2477.6,419.2 2487.0,418.4 2496.5,420.0 2505.9,419.7 2515.3,419.1 2524.7,418.8 2534.2,418.6 2543.6,419.4 2553.0,418.7 2562.5,418.4 2571.9,418.7 2581.3,419.1 2590.8,419.0 2600.2,419.8 2609.6,418.4 2619.0,418.0 2628.5,419.3 2637.9,420.6 2647.3,420.0 2655.2,419.6" fill="none" stroke="#ef8536" stroke-width="2.4" stroke-linejoin="round"/>
<polyline points="1487.5,822.4 1492.8,802.5 1497.5,786.2 1502.2,730.2 1506.9,796.2 1511.6,806.2 1516.6,815.6 1521.0,821.0" fill="none" stroke="#3b76af" stroke-width="2.4" stroke-linejoin="round"/>
<polyline points="1487.5,822.4 1492.8,776.2 1497.5,783.1 1502.2,786.2 1506.9,800.0 1511.6,786.2 1516.6,781.9 1530.6,781.9 1535.0,783.5 1543.1,783.5 1548.1,786.6 1552.8,785.0 1562.2,781.6 1566.9,783.5 1571.9,783.5 1576.2,781.6 1581.2,783.1 1586.2,815.0 1590.6,822.4" fill="none" stroke="#ef8536" stroke-width="2.4" stroke-linejoin="round"/>
<polyline points="1487.5,822.4 1492.8,804.0 1497.5,805.2 1502.2,807.5 1506.9,813.8 1511.6,807.5 1516.6,805.6 1521.2,804.0 1530.6,805.6 1543.1,803.8 1548.1,807.5 1576.2,804.0 1581.2,805.2 1586.2,820.0 1590.6,822.4" fill="none" stroke="#519d3e" stroke-width="2.4" stroke-linejoin="round"/>
<polyline points="1487.5,822.4 1492.8,816.2 1502.2,818.1 1506.9,820.6 1511.6,818.1 1521.2,816.2 1581.2,816.2 1586.2,821.2 1590.0,822.4" fill="none" stroke="#c53a32" stroke-width="2.4" stroke-linejoin="round"/>
<polyline points="828.0,822.3 1552.8,822.0 1558.0,822.6 1667.0,822.6" fill="none" stroke="#c9a5d6" stroke-width="2.0" stroke-linejoin="round"/>
<polyline points="828.0,821.2 1252.5,821.2 1294.0,818.9 1298.8,817.9 1306.0,818.9 1340.0,820.9 1487.0,819.6 1552.8,819.5 1557.5,820.6 1667.0,820.4" fill="none" stroke="#8d6ab8" stroke-width="2.4" stroke-linejoin="round"/>
<polyline points="828.0,824.3 1667.0,824.3" fill="none" stroke="#55b4b5" stroke-width="3.0" stroke-linejoin="round"/>
<polyline points="1814.2,818.9 1823.7,819.6 1833.2,817.9 1842.6,817.3 1852.1,818.2 1861.5,819.7 1871.0,818.9 1880.4,817.3 1889.9,815.8 1899.3,815.1 1908.8,816.2 1918.2,815.7 1927.7,815.3 1937.1,815.3 1946.6,815.7 1956.1,815.0 1965.5,815.5 1975.0,815.9 1984.4,817.2 1993.9,816.2 2003.3,816.8 2012.8,815.2 2022.2,816.4 2031.7,816.2 2041.1,815.5 2050.6,815.8 2060.0,816.7 2069.5,815.9 2078.9,816.9 2088.4,817.7 2097.9,817.8 2107.3,817.9 2116.8,815.6 2126.2,816.3 2135.7,815.6 2145.1,816.9 2154.6,816.5 2164.0,816.6 2173.5,816.8 2182.9,816.0 2192.4,816.4 2201.8,815.8 2211.3,818.1 2220.7,816.6 2230.2,816.6 2239.7,815.0 2249.1,814.8 2258.6,815.3 2268.0,817.0 2277.5,817.2 2286.9,816.6 2296.4,815.3 2305.8,817.1 2315.3,815.2 2324.7,814.7 2334.2,815.8 2343.6,814.8 2353.1,815.6 2362.5,816.4 2372.0,815.8 2381.5,816.0 2390.9,815.7 2400.4,815.0 2409.8,813.7 2419.3,813.9 2428.7,815.0 2438.2,813.9 2447.6,814.5 2457.1,815.4 2466.5,816.6 2476.0,814.6 2485.4,814.7 2494.9,815.4 2504.3,815.9 2513.8,814.3 2523.3,816.7 2532.7,815.1 2542.2,816.2 2551.6,815.4 2561.1,815.7 2570.5,816.9 2580.0,816.4 2589.4,815.8 2598.9,814.6 2608.3,814.5 2617.8,813.8 2627.2,816.6 2636.7,814.3 2646.1,813.4 2655.2,815.2" fill="none" stroke="#7f7f7f" stroke-width="2.0" stroke-linejoin="round"/>
<polyline points="1814.2,821.3 2282.7,820.8 2290.2,811.8 2334.0,808.0 2470.2,805.5 2479.0,802.0 2569.0,802.0 2584.0,804.2 2655.2,804.2" fill="none" stroke="#c53a32" stroke-width="2.4" stroke-linejoin="round"/>
<polyline points="1814.2,824.3 1823.7,824.1 1833.2,823.4 1842.6,824.3 1852.1,824.2 1861.5,824.2 1871.0,824.1 1880.4,824.9 1889.9,824.8 1899.3,824.9 1908.8,824.1 1918.2,823.7 1927.7,823.3 1937.1,823.6 1946.6,822.5 1956.1,824.4 1965.5,824.1 1975.0,824.0 1984.4,824.4 1993.9,823.8 2003.3,824.0 2012.8,824.3 2022.2,823.1 2031.7,824.6 2041.1,824.1 2050.6,824.3 2060.0,823.3 2069.5,823.3 2078.9,824.6 2088.4,823.7 2097.9,823.5 2107.3,824.0 2116.8,824.7 2126.2,822.6 2135.7,824.3 2145.1,824.0 2154.6,824.3 2164.0,823.3 2173.5,823.8 2182.9,824.7 2192.4,823.9 2201.8,823.4 2211.3,823.3 2220.7,823.3 2230.2,824.0 2239.7,823.9 2249.1,823.4 2258.6,824.0 2268.0,823.1 2277.5,822.6 2286.9,823.5 2296.4,821.4 2305.8,822.4 2315.3,821.7 2324.7,821.4 2334.2,821.7 2343.6,821.0 2353.1,820.8 2362.5,821.2 2372.0,821.2 2381.5,821.8 2390.9,822.7 2400.4,821.2 2409.8,820.9 2419.3,821.8 2428.7,821.9 2438.2,822.3 2447.6,821.3 2457.1,821.8 2466.5,821.6 2476.0,820.6 2485.4,821.5 2494.9,820.6 2504.3,821.6 2513.8,821.3 2523.3,821.4 2532.7,822.8 2542.2,822.9 2551.6,822.2 2561.1,822.0 2570.5,820.9 2580.0,821.6 2589.4,821.1 2598.9,819.9 2608.3,819.1 2617.8,819.8 2627.2,819.8 2636.7,820.4 2646.1,819.4 2655.2,819.8" fill="none" stroke="#4eb9cc" stroke-width="2.4" stroke-linejoin="round"/>
<polyline points="1814.2,815.0 1823.7,815.0 1833.2,815.0 1842.6,815.0 1852.1,815.0 1861.5,815.1 1871.0,817.4 1880.4,817.8 1889.9,818.1 1899.3,817.3 1908.8,818.3 1918.2,817.2 1927.7,818.5 1937.1,817.7 1946.6,818.4 1956.1,818.7 1965.5,818.4 1975.0,817.9 1984.4,817.6 1993.9,817.2 2003.3,819.3 2012.8,819.1 2022.2,820.1 2031.7,819.2 2041.1,818.9 2050.6,818.0 2060.0,818.0 2069.5,816.9 2078.9,818.7 2088.4,819.3 2097.9,819.8 2107.3,820.0 2116.8,817.9 2126.2,816.5 2135.7,818.4 2145.1,818.5 2154.6,817.5 2164.0,817.3 2173.5,818.6 2182.9,819.9 2192.4,819.1 2201.8,817.9 2211.3,818.9 2220.7,819.4 2230.2,817.6 2239.7,818.7 2249.1,817.5 2258.6,818.0 2268.0,818.1 2277.5,817.3 2286.9,815.4 2296.4,816.4 2305.8,815.2 2315.3,816.6 2324.7,814.8 2334.2,815.4 2343.6,815.6 2353.1,815.4 2362.5,816.2 2372.0,816.4 2381.5,817.8 2390.9,817.0 2400.4,817.3 2409.8,815.5 2419.3,816.8 2428.7,817.0 2438.2,817.5 2447.6,817.6 2457.1,815.7 2466.5,814.7 2476.0,814.9 2485.4,815.0 2494.9,816.8 2504.3,814.4 2513.8,815.4 2523.3,816.5 2532.7,815.8 2542.2,814.5 2551.6,814.6 2561.1,815.8 2570.5,816.3 2580.0,815.7 2589.4,815.9 2598.9,816.8 2608.3,815.6 2617.8,817.2 2627.2,815.2 2636.7,817.0 2646.1,814.7 2655.2,815.4" fill="none" stroke="#bbbc3f" stroke-width="2.2" stroke-linejoin="round"/>
<polyline points="2285.8,815.5 2289.0,807.5 2470.2,801.8 2479.0,797.5 2580.2,797.5 2594.0,800.5 2655.2,800.5" fill="none" stroke="#519d3e" stroke-width="2.4" stroke-linejoin="round"/>
<polyline points="2255.0,804.6 2271.5,803.7 2290.0,806.4 2655.2,806.6" fill="none" stroke="#85584e" stroke-width="2.0" stroke-linejoin="round"/>
<polyline points="1814.2,805.8 2270.0,805.8 2282.0,807.0 2655.2,806.4" fill="none" stroke="#d57ebe" stroke-width="2.4" stroke-linejoin="round"/>
<polyline points="1814.2,803.9 2230.0,803.9 2271.5,802.0 2304.0,805.3 2400.0,804.7 2655.2,804.4" fill="none" stroke="#8d6ab8" stroke-width="2.4" stroke-linejoin="round"/>
<polyline points="1814.2,750.6 1819.0,757.4 1823.7,747.4 1828.4,747.7 1833.2,759.2 1837.9,742.6 1842.6,752.2 1847.3,759.0 1852.1,745.5 1856.8,750.7 1861.5,763.0 1866.2,746.0 1871.0,763.7 1875.7,746.9 1880.4,772.5 1885.2,755.2 1889.9,747.1 1894.6,751.2 1899.3,746.8 1904.1,759.5 1908.8,754.7 1913.5,746.6 1918.2,756.5 1923.0,746.4 1927.7,762.4 1932.4,756.1 1937.1,763.2 1941.9,748.6 1946.6,743.0 1951.3,757.3 1956.1,747.0 1960.8,764.1 1965.5,743.1 1970.2,746.2 1975.0,759.8 1979.7,751.4 1984.4,759.6 1989.1,752.9 1993.9,763.5 1998.6,747.2 2003.3,745.0 2008.0,749.0 2012.8,762.6 2017.5,746.7 2022.2,755.6 2027.0,746.4 2031.7,760.8 2036.4,757.2 2041.1,756.7 2045.9,746.4 2050.6,756.0 2055.3,751.0 2060.0,752.0 2064.8,759.1 2069.5,751.5 2074.2,764.6 2078.9,745.8 2083.7,759.5 2088.4,752.1 2093.1,756.5 2097.8,753.4 2102.6,760.3 2107.3,749.0 2112.0,758.8 2116.8,746.8 2121.5,758.9 2126.2,750.3 2130.9,762.1 2135.7,751.2 2140.4,758.1 2145.1,763.4 2149.8,748.5 2154.6,760.5 2159.3,743.9 2164.0,755.4 2168.7,747.4 2173.5,756.8 2178.2,744.4 2182.9,747.8 2187.7,777.5 2192.4,756.8 2197.1,747.4 2201.8,760.1 2206.6,762.8 2211.3,748.0 2216.0,762.4 2220.7,755.8 2225.5,744.7 2230.2,746.0 2234.9,758.4 2239.6,749.7 2244.4,758.7 2249.1,739.0 2253.8,746.1 2258.6,759.3 2263.3,745.4 2268.0,740.6 2272.7,749.2 2277.5,743.4 2282.2,754.1 2286.9,742.8 2291.6,757.0 2296.4,749.2 2301.1,747.4 2305.8,750.9 2310.5,751.0 2315.3,742.1 2320.0,755.2 2324.7,770.0 2329.5,749.3 2334.2,738.1 2338.9,742.8 2343.6,751.7 2348.4,753.9 2353.1,738.1 2357.8,743.6 2362.5,735.4 2367.3,739.3 2372.0,749.5 2376.7,737.0 2381.4,734.0 2386.2,728.8 2390.9,748.0 2395.6,737.8 2400.4,738.0 2405.1,748.2 2409.8,739.9 2414.5,751.7 2419.3,740.0 2424.0,750.6 2428.7,743.2 2433.4,747.4 2438.2,737.4 2442.9,751.6 2447.6,745.1 2452.3,734.9 2457.1,746.5 2461.8,736.0 2466.5,747.8 2471.3,741.7 2476.0,748.5 2480.7,739.6 2485.4,754.0 2490.2,743.3 2494.9,737.8 2499.6,746.5 2504.3,736.7 2509.1,742.4 2513.8,740.8 2518.5,744.5 2523.2,738.6 2528.0,748.5 2532.7,749.9 2537.4,737.9 2542.2,738.0 2546.9,737.6 2551.6,751.1 2556.3,744.9 2561.1,743.8 2565.8,740.7 2570.5,742.9 2575.2,748.2 2580.0,749.5 2584.7,738.5 2589.4,749.5 2594.1,740.0 2598.9,744.7 2603.6,741.3 2608.3,746.2 2613.1,736.3 2617.8,746.0 2622.5,737.9 2627.2,735.5 2632.0,734.0 2636.7,744.8 2641.4,738.2 2646.1,737.0 2650.9,736.7 2655.2,741.0" fill="none" stroke="#3b76af" stroke-width="2.4" stroke-linejoin="round"/>
<polyline points="1814.2,754.2 1819.0,756.9 1823.7,760.7 1828.4,762.3 1833.2,761.6 1837.9,758.0 1842.6,757.8 1847.3,756.0 1852.1,752.3 1856.8,753.9 1861.5,758.4 1866.2,757.4 1871.0,755.4 1875.7,752.6 1880.4,754.7 1885.2,753.8 1889.9,755.3 1894.6,756.9 1899.3,749.0 1904.1,753.6 1908.8,750.7 1913.5,751.5 1918.2,750.8 1923.0,757.7 1927.7,758.1 1932.4,757.7 1937.1,753.9 1941.9,750.9 1946.6,753.3 1951.3,755.6 1956.1,755.4 1960.8,757.6 1965.5,755.1 1970.2,760.8 1975.0,758.9 1979.7,762.4 1984.4,758.1 1989.1,755.6 1993.9,753.1 1998.6,757.4 2003.3,759.2 2008.0,757.0 2012.8,757.3 2017.5,755.3 2022.2,754.4 2027.0,754.5 2031.7,749.8 2036.4,751.2 2041.1,754.7 2045.9,755.9 2050.6,759.0 2055.3,758.5 2060.0,757.7 2064.8,756.4 2069.5,749.2 2074.2,754.3 2078.9,752.8 2083.7,756.5 2088.4,755.2 2093.1,754.7 2097.8,753.9 2102.6,754.5 2107.3,749.7 2112.0,749.5 2116.8,757.9 2121.5,757.7 2126.2,755.0 2130.9,754.6 2135.7,754.5 2140.4,762.9 2145.1,759.2 2149.8,756.7 2154.6,754.1 2159.3,749.0 2164.0,754.6 2168.7,759.7 2173.5,759.7 2178.2,757.7 2182.9,754.4 2187.7,751.6 2192.4,754.5 2197.1,753.5 2201.8,750.9 2206.6,758.4 2211.3,752.3 2216.0,751.8 2220.7,746.6 2225.5,756.6 2230.2,753.3 2234.9,752.6 2239.6,753.2 2244.4,749.8 2249.1,749.4 2253.8,751.9 2258.6,748.9 2263.3,751.4 2268.0,754.5 2272.7,753.7 2277.5,755.2 2282.2,754.4 2286.9,755.9 2291.6,751.8 2296.4,751.1 2301.1,746.3 2305.8,747.7 2310.5,746.3 2315.3,747.8 2320.0,745.2 2324.7,748.5 2329.5,755.2 2334.2,747.5 2338.9,749.5 2343.6,750.0 2348.4,746.0 2353.1,746.2 2357.8,745.4 2362.5,748.0 2367.3,745.3 2372.0,753.9 2376.7,751.0 2381.4,751.1 2386.2,753.4 2390.9,752.1 2395.6,747.2 2400.4,747.3 2405.1,746.4 2409.8,746.8 2414.5,749.1 2419.3,740.8 2424.0,739.6 2428.7,743.4 2433.4,746.6 2438.2,744.6 2442.9,745.0 2447.6,748.9 2452.3,748.6 2457.1,746.2 2461.8,744.9 2466.5,741.2 2471.3,746.1 2476.0,746.2 2480.7,743.0 2485.4,746.5 2490.2,744.8 2494.9,744.4 2499.6,740.4 2504.3,747.0 2509.1,743.7 2513.8,746.0 2518.5,746.4 2523.2,744.1 2528.0,745.0 2532.7,744.7 2537.4,744.6 2542.2,745.8 2546.9,743.6 2551.6,757.0 2556.3,746.2 2561.1,742.1 2565.8,745.8 2570.5,744.3 2575.2,755.0 2580.0,738.6 2584.7,744.7 2589.4,738.6 2594.1,742.3 2598.9,752.6 2603.6,749.1 2608.3,749.3 2613.1,744.1 2617.8,741.5 2622.5,744.0 2627.2,746.1 2632.0,745.1 2636.7,743.1 2641.4,758.0 2646.1,743.1 2650.9,749.5 2655.2,745.5" fill="none" stroke="#ef8536" stroke-width="2.4" stroke-linejoin="round"/>
</svg></div></body></html>
